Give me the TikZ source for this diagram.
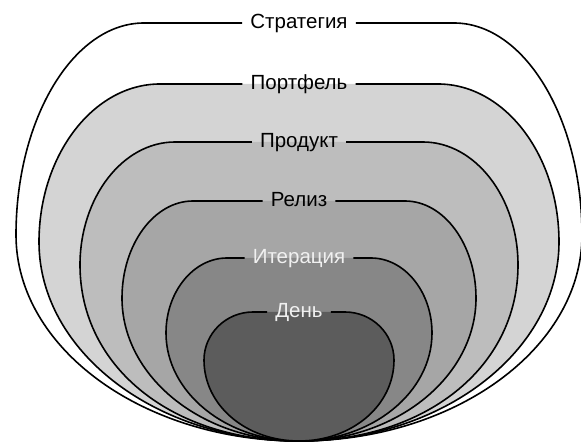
\documentclass[tikz,border=0pt]{standalone}
\usepackage{fontspec}
\setmainfont{Liberation Sans}
\tikzset{
  lbl/.style={inner xsep=8pt, inner ysep=0pt, text height=14.5pt, text depth=0pt, font=\fontsize{20.5}{22}\selectfont},
  outline/.style={draw=black, line width=1.6pt}
}
% #1 name, #2 half width, #3 top y, #4 flat half length, #5 y of widest point,
% #6 fill, #7 label, #8 label colour, #9 lower curve factor
\newcommand\onionlayer[9]{%
  \fill[#6] (299,441) .. controls ({299-#9*#2},441) and ({299-#2},{#5+#9*(441-#5)}) .. ({299-#2},#5)
    .. controls ({299-#2},{#5-0.55*(#5-#3)}) and ({299-#4-0.55*(#2-#4)},#3) .. ({299-#4},#3)
    -- ({299+#4},#3)
    .. controls ({299+#4+0.55*(#2-#4)},#3) and ({299+#2},{#5-0.55*(#5-#3)}) .. ({299+#2},#5)
    .. controls ({299+#2},{#5+#9*(441-#5)}) and ({299+#9*#2},441) .. (299,441) -- cycle;
  \node[lbl, text=#8] (#1) at (299,{#3-1.5}) {#7};
  \draw[outline] (#1.east |- 0,#3) -- ({299+#4},#3)
    .. controls ({299+#4+0.55*(#2-#4)},#3) and ({299+#2},{#5-0.55*(#5-#3)}) .. ({299+#2},#5)
    .. controls ({299+#2},{#5+#9*(441-#5)}) and ({299+#9*#2},441) .. (299,441)
    .. controls ({299-#9*#2},441) and ({299-#2},{#5+#9*(441-#5)}) .. ({299-#2},#5)
    .. controls ({299-#2},{#5-0.55*(#5-#3)}) and ({299-#4-0.55*(#2-#4)},#3) .. ({299-#4},#3)
    -- (#1.west |- 0,#3);
}
\begin{document}
\begin{tikzpicture}[x=1pt, y=-1pt]
\useasboundingbox (0,0) rectangle (581,443);
\onionlayer{strat}{283}{23}{155}{235}{white}{Стратегия}{black}{0.55}
\onionlayer{port}{260}{84}{139}{242}{black!17}{Портфель}{black}{0.55}
\onionlayer{prod}{219}{142}{124}{265}{black!26}{Продукт}{black}{0.58}
\onionlayer{rel}{177}{201}{106}{298}{black!35}{Релиз}{black}{0.55}
\onionlayer{iter}{133}{258}{72}{333}{black!47}{Итерация}{black!6}{0.55}
\onionlayer{day}{95}{312}{46}{360}{black!64}{День}{black!6}{0.56}
\end{tikzpicture}
\end{document}
